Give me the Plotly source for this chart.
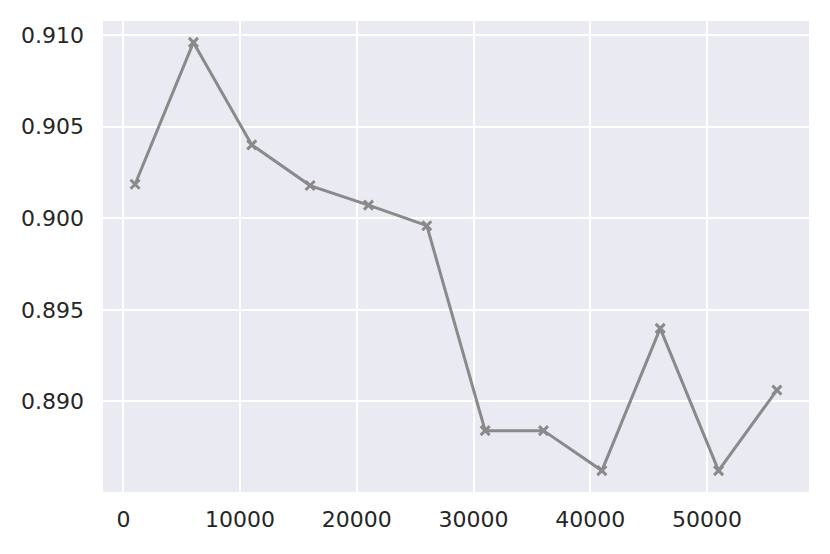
import plotly.graph_objects as go

steps = [1000, 6000, 11000, 16000, 21000, 26000, 31000, 36000, 41000, 46000, 51000, 56000]
scores = [0.90185, 0.90959, 0.90400, 0.90178, 0.90071, 0.89959,
          0.88841, 0.88841, 0.88623, 0.89399, 0.88623, 0.89062]

y_ticks = [0.890, 0.895, 0.900, 0.905, 0.910]
x_ticks = [0, 10000, 20000, 30000, 40000, 50000]

line_color = "#8a8a8a"

fig = go.Figure()
fig.add_trace(go.Scatter(
    x=steps, y=scores, mode="lines+markers",
    line=dict(color=line_color, width=3),
    marker=dict(symbol="x-thin", size=9, line=dict(color=line_color, width=3), color=line_color),
    showlegend=False,
))

xspan = max(steps) - min(steps)
yspan = max(scores) - min(scores)

fig.update_layout(
    width=830, height=554,
    margin=dict(l=102.5, r=21, t=20.7, b=62.3),
    paper_bgcolor="white",
    plot_bgcolor="#EAEAF2",
    font=dict(family="DejaVu Sans", size=22, color="#262626"),
)
fig.update_xaxes(
    range=[min(steps) - 0.05 * xspan, max(steps) + 0.05 * xspan],
    tickvals=x_ticks, ticktext=[str(v) for v in x_ticks],
    showgrid=True, gridcolor="white", gridwidth=2,
    zeroline=False, showline=False, ticks="", ticklabelstandoff=12,
)
fig.update_yaxes(
    range=[min(scores) - 0.05 * yspan, max(scores) + 0.05 * yspan],
    tickvals=y_ticks, ticktext=[f"{v:.3f}" for v in y_ticks],
    showgrid=True, gridcolor="white", gridwidth=2,
    zeroline=False, showline=False, ticks="", ticklabelstandoff=18,
)

fig.write_html("out.html", config={"displayModeBar": False},
               post_script="document.body.style.margin='0';")
